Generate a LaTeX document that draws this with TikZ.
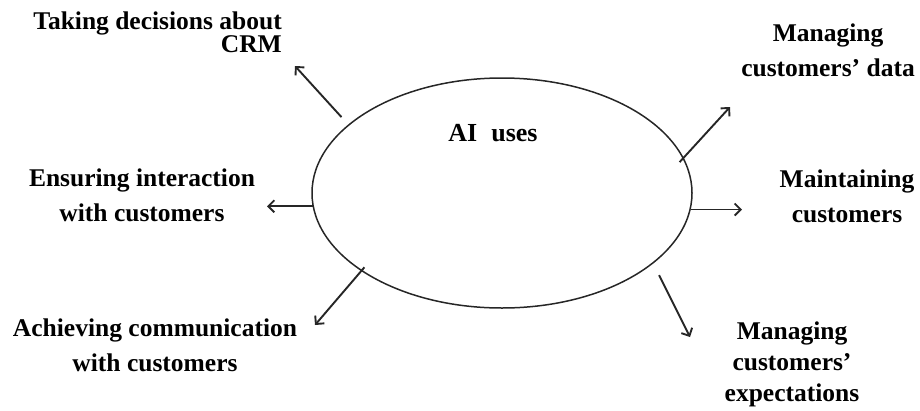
\documentclass[tikz,border=0pt]{standalone}
\usepackage{fontspec}
\setmainfont{Liberation Serif}
\usetikzlibrary{shapes.geometric,arrows.meta}
\begin{document}
\begin{tikzpicture}[x=1pt,y=-1pt,
  lbl/.style={font=\bfseries\fontsize{25.5}{35}\selectfont, align=center, inner sep=0pt, text depth=0pt},
  conn/.style={line width=1.9pt, draw=black!85, -{Straight Barb[length=6pt,width=12pt]}},
  blob/.style={draw=black!85, ellipse, line width=1.5pt, minimum width=380pt, minimum height=230pt, inner sep=0pt}]
\path[use as bounding box] (0,0) rectangle (920,410);
\node[blob] (ai) at (502,193) {};
\node[font=\bfseries\fontsize{26}{30}\selectfont, inner sep=0pt, anchor=base] (title) at (493,141) {AI\hspace{14pt}uses};

\node[lbl, align=right, font=\bfseries\fontsize{25.5}{21}\selectfont, anchor=south east] (l1) at (282,53) {Taking decisions about\\CRM};
\node[lbl, anchor=south] (l2) at (142,222) {Ensuring interaction\\with customers};
\node[lbl, anchor=south] (l3) at (155,372) {Achieving communication\\with customers};
\node[lbl, anchor=south] (l4) at (828,77) {Managing\\customers' data};
\node[lbl, anchor=south] (l5) at (847,223) {Maintaining\\customers};
\node[lbl, font=\bfseries\fontsize{25.5}{31}\selectfont, anchor=south] (l6) at (792,402) {Managing\\customers'\\expectations};

\coordinate (e1) at (295,66);
\coordinate (e2) at (267,206);
\coordinate (e3) at (315,325);
\coordinate (e4) at (730,107);
\coordinate (e5) at (742,211);
\coordinate (e6) at (690,337);

\draw[conn, shorten <=10pt] (ai.156.6) -- (e1);
\draw[conn] (ai.184) -- (ai.184 -| e2);
\draw[conn, shorten <=-5pt] (ai.209) -- (e3);
\draw[conn, shorten <=-6pt] (ai.11.1) -- (e4);
\draw[conn] (ai.-5.5) -- (ai.-5.5 -| e5);
\draw[conn, shorten <=13pt] (ai.-25.2) -- (e6);
\end{tikzpicture}
\end{document}
